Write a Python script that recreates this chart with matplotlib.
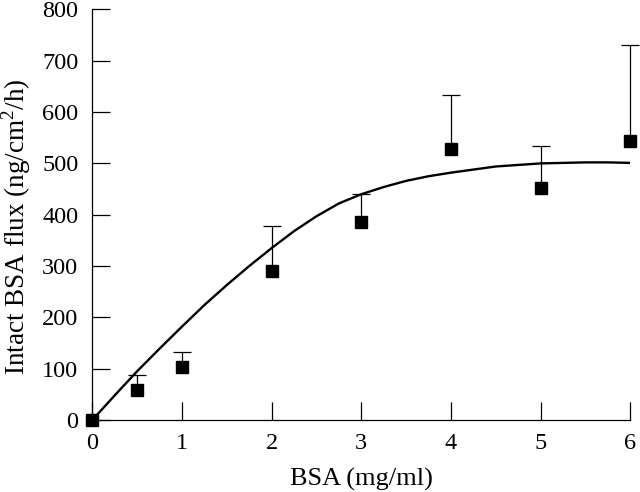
import numpy as np
import matplotlib
matplotlib.use("Agg")
import matplotlib.pyplot as plt

# measured points (mean and upper error)
bsa = [0, 0.5, 1, 2, 3, 4, 5, 6]
flux = [0, 58, 104, 290, 386, 528, 452, 544]
err_up = [0, 29, 29, 88, 55, 105, 82, 186]

# fitted curve
fit_x = [0, 0.25, 0.5, 0.75, 1, 1.25, 1.5, 1.75, 2, 2.25, 2.5, 2.75, 3,
         3.25, 3.5, 3.75, 4, 4.25, 4.5, 4.75, 5, 5.25, 5.5, 5.75, 6]
fit_y = [0, 48, 95, 139, 182, 224, 263, 300, 335, 368, 397, 422, 440,
         454, 466, 475, 482, 488, 494, 497, 500, 501, 502, 502, 501]

plt.rcParams['font.family'] = ['Liberation Serif', 'DejaVu Serif']
plt.rcParams['mathtext.fontset'] = 'custom'
plt.rcParams['mathtext.rm'] = 'Liberation Serif'

fig = plt.figure(figsize=(6.4, 4.92), dpi=100)
ax = fig.add_axes([0.144, 0.146, 0.841, 0.835])

ax.plot(fit_x, fit_y, color='black', lw=1.7, zorder=2)

eb = ax.errorbar(bsa[1:], flux[1:], yerr=[np.zeros(len(bsa) - 1), err_up[1:]],
                 fmt='none', ecolor='black', elinewidth=0.9, capsize=6.5,
                 capthick=0.9, zorder=3)
# only upper caps
eb[1][0].set_visible(False)
for c in eb[1]:
    c.set_clip_on(False)
for c in eb[2]:
    c.set_clip_on(False)
ax.plot(bsa, flux, 's', color='black', ms=8, zorder=4, clip_on=False)

ax.set_xlim(0, 6)
ax.set_ylim(0, 800)
ax.set_xticks(range(0, 7))
ax.set_yticks(range(0, 801, 100))

for s in ['top', 'right']:
    ax.spines[s].set_visible(False)
for s in ['left', 'bottom']:
    ax.spines[s].set_linewidth(0.9)

ax.tick_params(direction='in', length=13, width=0.9, labelsize=17.5)
ax.tick_params(axis='x', pad=9)
ax.tick_params(axis='y', pad=10)

ax.set_xlabel('BSA (mg/ml)', fontsize=19, labelpad=10)
ax.set_ylabel(r'Intact BSA flux (ng/cm$^\mathrm{2}$/h)', fontsize=19.5)
ax.yaxis.set_label_coords(-0.11, 0.472)

plt.savefig('out.png', dpi=100)
